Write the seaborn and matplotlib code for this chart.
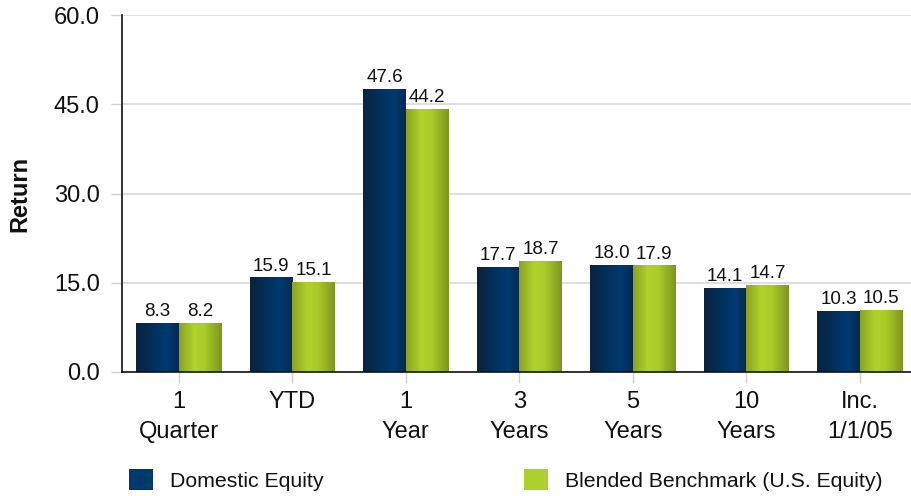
import numpy as np
import pandas as pd
import matplotlib
matplotlib.use("Agg")
import matplotlib.pyplot as plt
from matplotlib.colors import LinearSegmentedColormap
from matplotlib.patches import Patch
import seaborn as sns

periods = ["1\nQuarter", "YTD", "1\nYear", "3\nYears", "5\nYears", "10\nYears", "Inc.\n1/1/05"]
series_names = ["Domestic Equity", "Blended Benchmark (U.S. Equity)"]
domestic_equity = [8.3, 15.9, 47.6, 17.7, 18.0, 14.1, 10.3]
blended_benchmark = [8.2, 15.1, 44.2, 18.7, 17.9, 14.7, 10.5]
y_ticks = [0.0, 15.0, 30.0, 45.0, 60.0]

df = pd.DataFrame({
    "Period": periods * 2,
    "Series": [series_names[0]] * len(periods) + [series_names[1]] * len(periods),
    "Return": domestic_equity + blended_benchmark,
})

sns.set_theme(style="white")
plt.rcParams["font.family"] = ["Liberation Sans", "DejaVu Sans"]

base_colors = {series_names[0]: "#003a6c", series_names[1]: "#acd12a"}
gradients = {
    series_names[0]: LinearSegmentedColormap.from_list(
        "navy", [(0.0, "#0b223d"), (0.45, "#00335f"), (0.72, "#003a70"), (1.0, "#072a52")]),
    series_names[1]: LinearSegmentedColormap.from_list(
        "lime", [(0.0, "#8aa322"), (0.35, "#b0d22b"), (0.6, "#aacb28"), (1.0, "#7d951f")]),
}

fig = plt.figure(figsize=(9.11, 4.96), dpi=100)
ax = fig.add_axes([122 / 911, 1 - 372 / 496, 1 - 122 / 911, (372 - 15) / 496])

sns.barplot(data=df, x="Period", y="Return", hue="Series", hue_order=series_names,
            palette=base_colors, width=0.75, gap=0, saturation=1, ax=ax,
            legend=False, zorder=3)

ax.set_xlim(-0.5, 6.45)
ax.set_ylim(0, 60)

# horizontal shading inside each bar
grad_row = np.linspace(0, 1, 256).reshape(1, -1)
for container, name in zip(ax.containers, series_names):
    for bar in container:
        x0, y0 = bar.get_x(), bar.get_y()
        w, h = bar.get_width(), bar.get_height()
        bar.set_facecolor("none")
        bar.set_edgecolor("none")
        im = ax.imshow(grad_row, cmap=gradients[name], aspect="auto",
                       extent=(x0, x0 + w, y0, y0 + h), zorder=3,
                       interpolation="bilinear")
        im.set_clip_path(bar)
    labels = [f"{v:.1f}" for v in container.datavalues]
    ax.bar_label(container, labels=labels, padding=2, fontsize=13.5, color="#111111")

ax.set_xlim(-0.5, 6.45)
ax.set_ylim(0, 60)

ax.set_yticks(y_ticks)
ax.set_yticklabels([f"{t:.1f}" for t in y_ticks], fontsize=17, color="#111111")
ax.tick_params(axis="y", length=8, width=1, color="#d0d0d0", pad=8, left=True)
ax.tick_params(axis="x", length=8, width=1, color="#d0d0d0", pad=6, bottom=True,
               labelsize=17, labelcolor="#111111")
for lbl in ax.get_xticklabels():
    lbl.set_linespacing(1.45)

ax.grid(axis="y", color="#dcdcdc", linewidth=1.3, zorder=0)
ax.set_axisbelow(True)
ax.set_xlabel("")
ax.set_ylabel("Return", fontsize=17, fontweight="bold", labelpad=16, color="#111111")

for side in ["top", "right"]:
    ax.spines[side].set_visible(False)
for side in ["left", "bottom"]:
    ax.spines[side].set_color("#111111")
    ax.spines[side].set_linewidth(1.2)
    ax.spines[side].set_zorder(5)

# legend below the plot, one entry per series
legend_x = [129 / 911, 524 / 911]
for name, lx in zip(series_names, legend_x):
    fig.legend(handles=[Patch(facecolor=base_colors[name], edgecolor="none", label=name)],
               loc="center left", bbox_to_anchor=(lx, 1 - 480 / 496), frameon=False,
               fontsize=15.3, handlelength=1.13, handleheight=1.13, handletextpad=0.8,
               borderpad=0, borderaxespad=0, labelcolor="#111111")

fig.savefig("out.png", dpi=100)
